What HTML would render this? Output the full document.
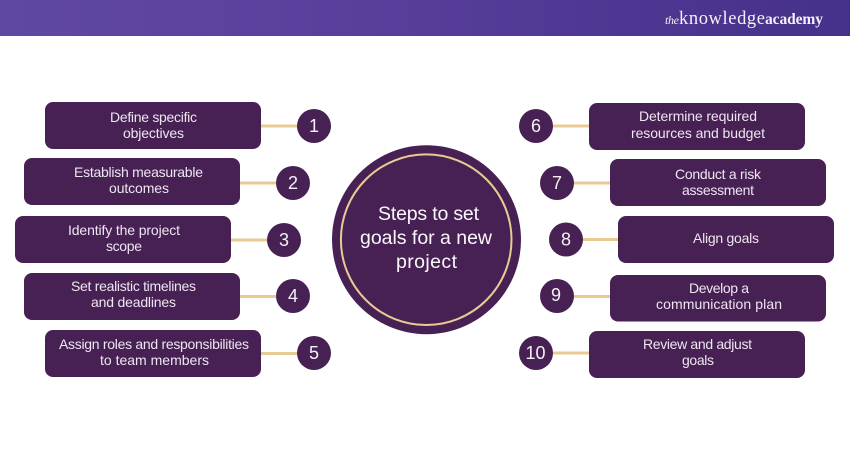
<!DOCTYPE html>
<html>
<head>
<meta charset="utf-8">
<style>
html,body{margin:0;padding:0;background:#fff;width:850px;height:450px;overflow:hidden}
svg{display:block}
.t{font-family:"Liberation Sans",sans-serif;font-size:14px;fill:#eee6f0}
.n{font-family:"Liberation Sans",sans-serif;font-size:18px;fill:#f6f1f7;text-anchor:middle}
.c{font-family:"Liberation Sans",sans-serif;font-size:19.5px;fill:#fbf8fb}
.l{font-family:"Liberation Serif",serif;fill:#f4f0f8}
</style>
</head>
<body>
<svg width="850" height="450" viewBox="0 0 850 450" xmlns="http://www.w3.org/2000/svg">
<defs><linearGradient id="h" x1="0" x2="1" y1="0" y2="0"><stop offset="0" stop-color="#5f48a2"/><stop offset="0.35" stop-color="#5a419d"/><stop offset="1" stop-color="#45308a"/></linearGradient></defs>
<rect width="850" height="450" fill="#fff"/>
<rect width="850" height="36" fill="url(#h)"/>
<text class="l" x="665" y="24" font-style="italic" style="font-size:12px" textLength="14">the</text>
<text class="l" x="679" y="24" style="font-size:18.5px" textLength="86">knowledge</text>
<text class="l" x="765" y="24" font-weight="bold" style="font-size:15.5px" textLength="58">academy</text>

<g fill="#e8cb94">
<rect x="261" y="124.500" width="40" height="3"/>
<rect x="240" y="181.500" width="40" height="3"/>
<rect x="231" y="238.500" width="40" height="3"/>
<rect x="240" y="295" width="40" height="3"/>
<rect x="261" y="352" width="40" height="3"/>
<rect x="549" y="124.500" width="40" height="3"/>
<rect x="570" y="181.500" width="40" height="3"/>
<rect x="579" y="238" width="40" height="3"/>
<rect x="570" y="295" width="40" height="3"/>
<rect x="549" y="351.500" width="40" height="3"/>
</g>

<g fill="#472154">
<rect x="45" y="102" width="216" height="47" rx="8"/>
<rect x="24" y="158" width="216" height="47" rx="8"/>
<rect x="15" y="216" width="216" height="47" rx="8"/>
<rect x="24" y="273" width="216" height="47" rx="8"/>
<rect x="45" y="330" width="216" height="47" rx="8"/>
<rect x="589" y="103" width="216" height="47" rx="8"/>
<rect x="610" y="159" width="216" height="47" rx="8"/>
<rect x="618" y="216" width="216" height="47" rx="8"/>
<rect x="610" y="275" width="216" height="46.500" rx="8"/>
<rect x="589" y="331" width="216" height="47" rx="8"/>
<circle cx="314" cy="126" r="17"/>
<circle cx="293" cy="183" r="17"/>
<circle cx="284" cy="240" r="17"/>
<circle cx="293" cy="296" r="17"/>
<circle cx="314" cy="353" r="17"/>
<circle cx="536" cy="126" r="17"/>
<circle cx="557" cy="183" r="17"/>
<circle cx="566" cy="239.500" r="17"/>
<circle cx="557" cy="296" r="17"/>
<circle cx="536" cy="353" r="17"/>
<circle cx="426.500" cy="239.700" r="94.500"/>
</g>
<circle cx="426.200" cy="239.700" r="85.300" fill="none" stroke="#e8cb94" stroke-width="2"/>

<text class="c" x="378" y="220" textLength="101">Steps to set</text>
<text class="c" x="360" y="244" textLength="132">goals for a new</text>
<text class="c" x="396" y="268" textLength="61">project</text>

<text class="t" x="110" y="122" textLength="87">Define specific</text>
<text class="t" x="123" y="138" textLength="61">objectives</text>
<text class="t" x="74" y="177" textLength="129">Establish measurable</text>
<text class="t" x="109" y="193" textLength="60">outcomes</text>
<text class="t" x="68" y="235" textLength="112">Identify the project</text>
<text class="t" x="106" y="251" textLength="36">scope</text>
<text class="t" x="71" y="291" textLength="125">Set realistic timelines</text>
<text class="t" x="91" y="307" textLength="85">and deadlines</text>
<text class="t" x="59" y="349" textLength="190">Assign roles and responsibilities</text>
<text class="t" x="100" y="365" textLength="109">to team members</text>

<text class="t" x="639" y="121" textLength="118">Determine required</text>
<text class="t" x="631" y="138" textLength="134">resources and budget</text>
<text class="t" x="675" y="179" textLength="86">Conduct a risk</text>
<text class="t" x="682" y="195" textLength="72">assessment</text>
<text class="t" x="693" y="243" textLength="66">Align goals</text>
<text class="t" x="689" y="293" textLength="60">Develop a</text>
<text class="t" x="656" y="309" textLength="126">communication plan</text>
<text class="t" x="643" y="349" textLength="109">Review and adjust</text>
<text class="t" x="682" y="365" textLength="32">goals</text>

<text class="n" x="314" y="132">1</text>
<text class="n" x="293" y="189">2</text>
<text class="n" x="284" y="246">3</text>
<text class="n" x="293" y="302">4</text>
<text class="n" x="314" y="359">5</text>
<text class="n" x="536" y="132">6</text>
<text class="n" x="557" y="189">7</text>
<text class="n" x="566" y="245.500">8</text>
<text class="n" x="556" y="301">9</text>
<text class="n" x="535.500" y="359">10</text>
</svg>
</body>
</html>
